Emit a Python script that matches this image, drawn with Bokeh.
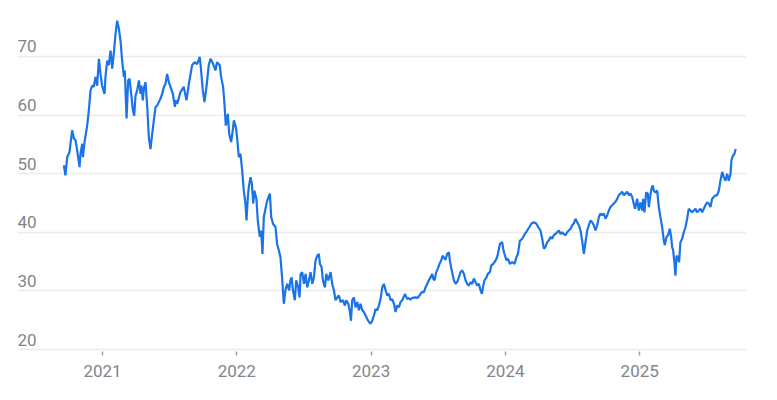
from bokeh.plotting import figure
from bokeh.models import Range1d, FixedTicker, ColumnDataSource
from bokeh.core.properties import value
from bokeh.embed import file_html
from bokeh.resources import INLINE

# decimal years and prices
years = [
    2020.712, 2020.724, 2020.737, 2020.754, 2020.774, 2020.787, 2020.799, 2020.811, 2020.829, 2020.836,
    2020.849, 2020.854, 2020.868, 2020.886, 2020.898, 2020.911, 2020.923, 2020.935, 2020.948, 2020.960,
    2020.973, 2020.985, 2020.997, 2021.015, 2021.022, 2021.035, 2021.047, 2021.060, 2021.072, 2021.084,
    2021.097, 2021.109, 2021.122, 2021.134, 2021.146, 2021.159, 2021.166, 2021.179, 2021.191, 2021.201,
    2021.216, 2021.226, 2021.236, 2021.246, 2021.258, 2021.271, 2021.283, 2021.290, 2021.300, 2021.308,
    2021.320, 2021.333, 2021.345, 2021.357, 2021.370, 2021.382, 2021.395, 2021.407, 2021.419, 2021.432,
    2021.444, 2021.457, 2021.469, 2021.481, 2021.494, 2021.506, 2021.524, 2021.539,
    2021.543, 2021.556, 2021.580, 2021.605, 2021.625, 2021.643, 2021.667, 2021.685, 2021.705, 2021.724,
    2021.734, 2021.747, 2021.759, 2021.774, 2021.791, 2021.804, 2021.824, 2021.841, 2021.853, 2021.873,
    2021.883, 2021.898, 2021.908, 2021.918, 2021.933, 2021.943, 2021.958, 2021.970, 2021.978, 2021.993,
    2022.002, 2022.015, 2022.027, 2022.040, 2022.052, 2022.064, 2022.072, 2022.082, 2022.089, 2022.102,
    2022.112, 2022.122, 2022.131, 2022.146, 2022.156, 2022.171, 2022.181, 2022.191, 2022.201, 2022.216,
    2022.226, 2022.236, 2022.246, 2022.256, 2022.270, 2022.288, 2022.300, 2022.313, 2022.325, 2022.337,
    2022.350, 2022.362, 2022.375, 2022.390, 2022.399,
    2022.408, 2022.418, 2022.432, 2022.442, 2022.457, 2022.467, 2022.475, 2022.487, 2022.500, 2022.512,
    2022.524, 2022.537, 2022.549, 2022.562, 2022.574, 2022.586, 2022.599, 2022.611, 2022.619, 2022.631,
    2022.641, 2022.656, 2022.666, 2022.681, 2022.698, 2022.710, 2022.723, 2022.735, 2022.748, 2022.760,
    2022.772, 2022.790, 2022.805, 2022.815, 2022.830, 2022.840, 2022.850, 2022.859, 2022.872, 2022.884,
    2022.897, 2022.909, 2022.921, 2022.934, 2022.946, 2022.959, 2022.971, 2022.984, 2022.996, 2023.008,
    2023.021, 2023.033, 2023.046, 2023.058, 2023.070, 2023.083, 2023.095, 2023.108, 2023.120, 2023.132,
    2023.145, 2023.157, 2023.170, 2023.182, 2023.194, 2023.207, 2023.219, 2023.232, 2023.252,
    2023.269, 2023.281, 2023.293, 2023.306, 2023.331, 2023.348, 2023.368, 2023.380, 2023.393, 2023.405,
    2023.418, 2023.430, 2023.442, 2023.455, 2023.462, 2023.472, 2023.485, 2023.497, 2023.509, 2023.522,
    2023.532, 2023.542, 2023.554, 2023.566, 2023.579, 2023.586, 2023.596, 2023.606, 2023.616, 2023.629,
    2023.641, 2023.653, 2023.666, 2023.678, 2023.691, 2023.703, 2023.715, 2023.728, 2023.740, 2023.753,
    2023.765, 2023.777, 2023.790, 2023.802, 2023.815, 2023.825, 2023.835, 2023.844, 2023.859, 2023.869,
    2023.884, 2023.894, 2023.909, 2023.919, 2023.934, 2023.944, 2023.959, 2023.976, 2023.983, 2023.993,
    2024.008, 2024.018, 2024.033, 2024.050, 2024.068, 2024.083, 2024.093, 2024.108,
    2024.112, 2024.125, 2024.144, 2024.162, 2024.179, 2024.194, 2024.212, 2024.229, 2024.244, 2024.261,
    2024.274, 2024.286, 2024.298, 2024.311, 2024.323, 2024.336, 2024.348, 2024.360, 2024.373, 2024.385,
    2024.398, 2024.410, 2024.422, 2024.435, 2024.447, 2024.460, 2024.472, 2024.485, 2024.497, 2024.509,
    2024.522, 2024.534, 2024.547, 2024.559, 2024.571, 2024.584, 2024.596, 2024.609, 2024.621, 2024.633,
    2024.646, 2024.658, 2024.671, 2024.683, 2024.696, 2024.708, 2024.720, 2024.733, 2024.745, 2024.758,
    2024.770, 2024.782, 2024.795, 2024.807, 2024.820, 2024.832, 2024.844, 2024.857, 2024.869, 2024.882,
    2024.894, 2024.906, 2024.919, 2024.931, 2024.944, 2024.964,
    2024.968, 2024.981, 2024.993, 2025.005, 2025.018, 2025.025, 2025.035, 2025.048, 2025.060, 2025.068,
    2025.075, 2025.087, 2025.097, 2025.105, 2025.117, 2025.130, 2025.142, 2025.154, 2025.167, 2025.179,
    2025.187, 2025.199, 2025.211, 2025.224, 2025.234, 2025.241, 2025.249, 2025.259, 2025.266, 2025.274,
    2025.283, 2025.293, 2025.303, 2025.316, 2025.328, 2025.341, 2025.353, 2025.365, 2025.378, 2025.390,
    2025.403, 2025.415, 2025.427, 2025.440, 2025.452, 2025.465, 2025.477, 2025.489, 2025.502, 2025.514,
    2025.527, 2025.539, 2025.551, 2025.564, 2025.576, 2025.589, 2025.601, 2025.614, 2025.626, 2025.638,
    2025.651, 2025.663, 2025.676, 2025.683, 2025.695, 2025.705, 2025.715,
]
prices = [
    51.4, 49.7, 52.8, 53.7, 57.4, 56.0, 55.7, 54.0, 51.1, 53.4,
    55.1, 52.8, 55.7, 58.2, 60.8, 64.2, 65.0, 64.8, 66.5, 65.0,
    69.6, 67.0, 65.0, 63.6, 66.5, 69.3, 68.5, 71.0, 67.9, 70.5,
    73.9, 76.1, 74.7, 72.7, 69.3, 66.5, 67.6, 59.4, 65.9, 66.2,
    63.1, 60.8, 59.9, 63.3, 64.2, 65.9, 63.6, 65.0, 62.5, 64.5,
    65.6, 61.4, 56.2, 54.2, 56.8, 59.1, 61.4, 61.6, 62.2, 62.8,
    63.6, 64.8, 65.3, 67.0, 65.6, 64.8, 63.6, 61.4,
    62.5, 61.9, 63.9, 64.8, 62.5, 65.3, 68.5, 69.0, 68.7, 69.9,
    67.6, 64.2, 62.2, 64.8, 68.5, 69.6, 68.7, 67.6, 69.0, 68.5,
    66.5, 64.8, 61.9, 58.2, 60.2, 56.8, 55.4, 57.4, 59.1, 57.9,
    56.2, 52.8, 53.4, 50.5, 47.1, 44.9, 42.0, 46.0, 47.7, 49.4,
    48.3, 44.9, 47.1, 45.7, 42.0, 39.2, 40.3, 36.3, 42.6, 44.3,
    45.4, 46.0, 46.6, 42.6, 41.4, 40.9, 38.0, 36.9, 35.7, 32.3,
    27.8, 30.1, 31.2, 30.1, 31.8,
    32.3, 30.1, 28.4, 31.8, 30.6, 28.9, 32.9, 33.2, 31.2, 32.9,
    30.6, 31.8, 33.2, 31.2, 32.3, 35.2, 36.0, 36.3, 34.6, 34.1,
    31.8, 30.6, 32.9, 31.8, 33.2, 31.2, 30.1, 28.4, 28.9, 29.2,
    28.1, 28.4, 27.5, 28.4, 27.8, 26.7, 24.9, 28.4, 28.9, 27.2,
    28.1, 26.7, 27.8, 26.7, 26.4, 25.8, 25.2, 24.7, 24.4, 24.9,
    25.8, 26.9, 26.7, 27.5, 28.6, 30.6, 31.2, 30.1, 29.2, 29.5,
    28.4, 28.6, 27.8, 26.4, 27.5, 27.2, 28.1, 28.4, 29.5,
    28.6, 28.8, 28.5, 28.8, 28.9, 28.8, 29.5, 29.8, 29.8, 30.6,
    31.2, 31.8, 32.3, 32.9, 32.1, 31.8, 33.2, 33.8, 34.6, 35.2,
    36.0, 35.7, 35.3, 36.3, 36.6, 35.2, 34.0, 32.9, 31.8, 31.2,
    31.5, 32.3, 33.2, 33.5, 32.9, 31.8, 31.2, 30.9, 31.5, 31.2,
    32.1, 31.5, 30.9, 31.2, 30.1, 29.5, 30.9, 31.8, 32.3, 32.9,
    33.2, 34.3, 34.6, 34.9, 35.5, 36.3, 38.0, 38.3, 37.2, 36.3,
    35.2, 35.5, 34.6, 34.9, 34.6, 35.8, 36.3, 38.6,
    38.6, 38.9, 39.7, 40.3, 40.9, 41.5, 41.7, 41.5, 40.9, 40.3,
    38.9, 37.2, 37.5, 38.3, 38.6, 39.2, 38.9, 39.5, 39.7, 40.0,
    40.3, 39.7, 40.0, 39.7, 39.5, 40.0, 40.3, 40.6, 41.2, 41.5,
    42.3, 41.7, 41.2, 40.3, 38.6, 36.3, 38.3, 40.3, 41.2, 42.0,
    41.7, 41.2, 40.3, 41.2, 42.6, 43.2, 42.9, 43.2, 42.3, 42.9,
    43.7, 44.3, 44.6, 44.9, 45.2, 45.7, 46.3, 46.6, 46.9, 46.3,
    46.6, 46.9, 46.3, 46.6, 46.0, 44.0,
    44.3, 45.7, 43.7, 45.1, 43.7, 45.7, 43.4, 46.8, 46.6, 44.3,
    45.7, 47.4, 48.0, 47.1, 46.8, 47.1, 44.3, 42.6, 40.9, 38.6,
    37.8, 39.2, 39.5, 40.6, 39.2, 37.5, 36.9, 34.6, 32.6, 36.0,
    35.8, 34.9, 38.3, 38.9, 40.0, 40.9, 42.3, 44.0, 43.7, 43.4,
    43.7, 44.0, 43.4, 43.7, 44.0, 43.4, 44.0, 44.6, 45.1, 44.9,
    44.3, 45.7, 46.0, 46.3, 46.3, 47.1, 48.8, 50.3, 49.4, 48.8,
    50.0, 48.8, 50.0, 52.3, 53.1, 53.4, 54.2,
]

y_ticks = [20, 30, 40, 50, 60, 70]
y_labels = ["20", "30", "40", "50", "60", "70"]
x_ticks = [2021, 2022, 2023, 2024, 2025]
x_labels = ["2021", "2022", "2023", "2024", "2025"]

X0, X1 = 2020.367, 2025.795
Y0, Y1 = 19.66, 78.0
GRAY = "#80868b"

p = figure(width=761, height=390, output_backend="svg", toolbar_location=None,
           x_range=Range1d(X0, X1), y_range=Range1d(Y0, Y1),
           min_border_left=17, min_border_right=15, min_border_top=9, min_border_bottom=39)
p.outline_line_color = None
p.background_fill_color = "white"
p.border_fill_color = "white"

# y grid & hidden y axis
p.yaxis.visible = False
p.yaxis.ticker = FixedTicker(ticks=y_ticks)
p.ygrid.ticker = FixedTicker(ticks=y_ticks)
p.ygrid.grid_line_color = "#ebebeb"
p.ygrid.grid_line_width = 1.5
p.xgrid.visible = False

# x axis
p.xaxis.ticker = FixedTicker(ticks=x_ticks)
p.xaxis.major_label_overrides = {t: l for t, l in zip(x_ticks, x_labels)}
p.xaxis.axis_line_color = None
p.xaxis.minor_tick_line_color = None
p.xaxis.major_tick_in = 0
p.xaxis.major_tick_out = 4
p.xaxis.major_tick_line_color = "#9aa0a6"
p.xaxis.major_tick_line_width = 1.5
p.xaxis.major_label_standoff = 9
p.xaxis.major_label_text_font = "Roboto"
p.xaxis.major_label_text_font_size = "17px"
p.xaxis.major_label_text_color = GRAY

# y labels inside plot, above gridlines
lab_src = ColumnDataSource(dict(x=[X0] * len(y_ticks), y=y_ticks, t=y_labels))
p.text(x="x", y="y", text="t", source=lab_src, text_align="left", text_baseline="bottom",
       y_offset=-4, text_font=value("Roboto"), text_font_size="17px", text_color=GRAY)

p.line(years, prices, line_color="#1a73e8", line_width=2.2)

open("out.html", "w").write(file_html(p, INLINE))
